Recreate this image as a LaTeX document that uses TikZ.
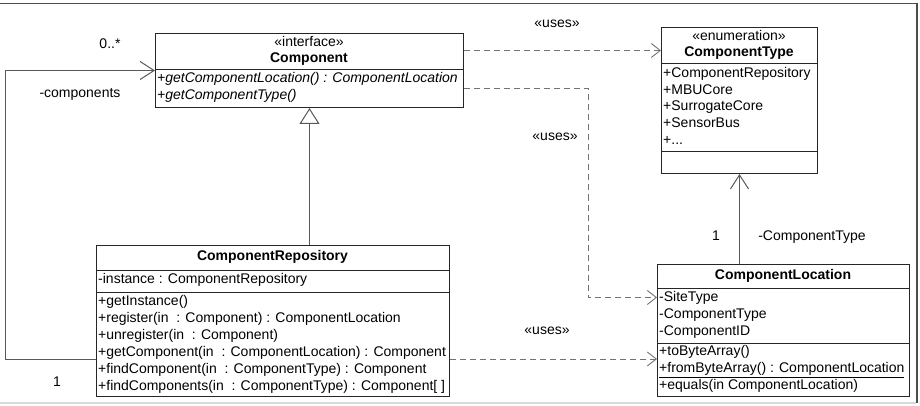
\documentclass[tikz,border=0pt]{standalone}
\usepackage{fontspec}
\setmainfont{Liberation Sans}
\usetikzlibrary{arrows.meta,calc}
\begin{document}
\begin{tikzpicture}[x=1pt,y=-1pt,font=\fontsize{14}{17}\selectfont,
  cls/.style={draw=black!85,line width=1pt,inner sep=0pt,anchor=north west},
  txt/.style={inner sep=0pt,anchor=west,text height=10pt,text depth=3pt},
  ttl/.style={inner sep=0pt,text height=10pt,text depth=3pt},
  sepline/.style={draw=black!85,line width=1pt},
  uses/.style={draw=black!55,line width=0.9pt,dash pattern=on 6pt off 4pt,-{Straight Barb[length=9pt,width=14pt]}},
  assoc/.style={draw=black!65,line width=1pt,-{Straight Barb[length=14pt,width=18pt]}},
  gen/.style={draw=black!65,line width=1pt,{Triangle[open,length=16pt,width=20pt,fill=white]}-},
  lbl/.style={inner sep=0pt,text height=10pt,text depth=3pt}]
\useasboundingbox (0,0) rectangle (920,406);
% window frame
\draw[black!70,line width=1.5pt] (0,3.5) -- (917,3.5) -- (917,403);
\draw[black!15,line width=1.5pt] (0,403) -- (916,403);

% Component
\node[cls,minimum width=308pt,minimum height=74pt] (comp) at (155,33) {};
\draw[sepline] (155,70) -- (463,70);
\node[ttl] (comp-st) at (309,43) {«interface»};
\node[ttl,font=\fontsize{14}{17}\selectfont\bfseries] (comp-t) at (309,59) {Component};
\node[txt,font=\fontsize{14}{17}\selectfont\itshape] (comp-m1) at (157,79) {+getComponentLocation() : ComponentLocation};
\node[txt,font=\fontsize{14}{17}\selectfont\itshape] (comp-m2) at (157,96) {+getComponentType()};

% ComponentType
\node[cls,minimum width=156pt,minimum height=146pt] (ctype) at (661,27) {};
\draw[sepline] (661,64) -- (817,64);
\draw[sepline] (661,152) -- (817,152);
\node[ttl] (ctype-st) at (739,37) {«enumeration»};
\node[ttl,font=\fontsize{14}{17}\selectfont\bfseries] (ctype-t) at (739,53) {ComponentType};
\node[txt] (ctype-a1) at (663,74) {+ComponentRepository};
\node[txt] (ctype-a2) at (663,91) {+MBUCore};
\node[txt] (ctype-a3) at (663,107) {+SurrogateCore};
\node[txt] (ctype-a4) at (663,124) {+SensorBus};
\node[txt] (ctype-a5) at (663,141) {+...};

% ComponentRepository
\node[cls,minimum width=353pt,minimum height=151pt] (repo) at (96,245) {};
\draw[sepline] (96,270) -- (449,270);
\draw[sepline] (96,292) -- (449,292);
\node[ttl,font=\fontsize{14}{17}\selectfont\bfseries] (repo-t) at (272.5,257) {ComponentRepository};
\node[txt] (repo-a1) at (98,280) {-instance : ComponentRepository};
\node[txt] (repo-m1) at (98,302) {+getInstance()};
\node[txt] (repo-m2) at (98,319) {+register(in\ \ : Component) : ComponentLocation};
\node[txt] (repo-m3) at (98,336) {+unregister(in\ \ : Component)};
\node[txt] (repo-m4) at (98,353) {+getComponent(in\ \ : ComponentLocation) : Component};
\node[txt] (repo-m5) at (98,370) {+findComponent(in\ \ : ComponentType) : Component};
\node[txt] (repo-m6) at (98,387) {+findComponents(in\ \ : ComponentType) : Component[ ]};

% ComponentLocation
\node[cls,minimum width=252pt,minimum height=132pt] (loc) at (657,264) {};
\draw[sepline] (657,288) -- (909,288);
\draw[sepline] (657,343) -- (909,343);
\node[ttl,font=\fontsize{14}{17}\selectfont\bfseries] (loc-t) at (783,276) {ComponentLocation};
\node[txt] (loc-a1) at (659,298) {-SiteType};
\node[txt] (loc-a2) at (659,315) {-ComponentType};
\node[txt] (loc-a3) at (659,332) {-ComponentID};
\node[txt] (loc-m1) at (659,352) {+toByteArray()};
\node[txt] (loc-m2) at (659,369) {\underline{+fromByteArray() : ComponentLocation}};
\node[txt] (loc-m3) at (659,386) {+equals(in ComponentLocation)};

% connectors
\draw[assoc] ([yshift=38pt]repo.south west) -- ++(-91,0) |- (comp.west);
\draw[gen] (comp.south) -- (comp.south |- repo.north);
\draw[uses] ([yshift=20pt]comp.east) -- ([yshift=20pt]comp.east -| ctype.west);
\draw[uses] ([yshift=-18pt]comp.east) -- ++(124,0) |- ([yshift=33pt]loc.west);
\draw[uses] ([yshift=38pt]repo.south east) -- ([yshift=38pt]repo.south east -| loc.west);
\draw[assoc] (ctype.south |- loc.north) -- (ctype.south);

% labels
\node[lbl] (l-mult0) at (110,45) {0..*};
\node[lbl] (l-comps) at (80,94) {-components};
\node[lbl] (l-one1) at (57,383) {1};
\node[lbl] (l-uses1) at (557,24) {«uses»};
\node[lbl] (l-uses2) at (555,137) {«uses»};
\node[lbl] (l-uses3) at (547,331) {«uses»};
\node[lbl] (l-one2) at (716,237) {1};
\node[lbl] (l-ctype) at (812,237) {-ComponentType};
\end{tikzpicture}
\end{document}
